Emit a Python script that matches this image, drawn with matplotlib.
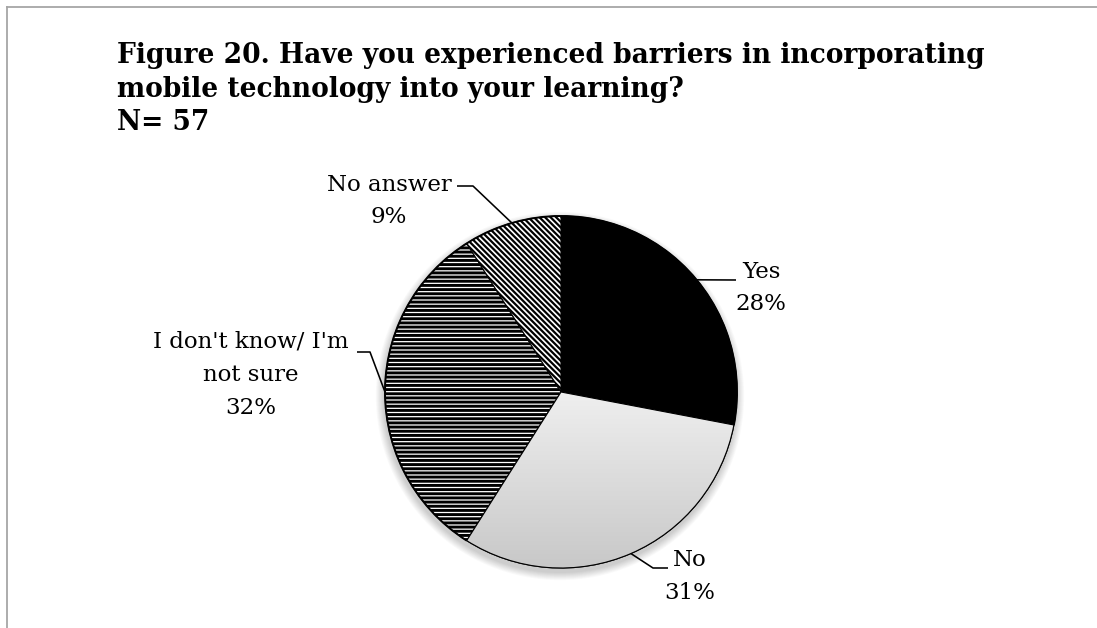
import numpy as np
import matplotlib
matplotlib.use("Agg")
import matplotlib.pyplot as plt
from matplotlib.lines import Line2D
from matplotlib.patches import Circle, Wedge, Arc
from matplotlib.colors import LinearSegmentedColormap

W, H = 1097, 628

title_lines = ["Figure 20. Have you experienced barriers in incorporating",
               "mobile technology into your learning?",
               "N= 57"]
categories = ["Yes", "No", "I don't know/ I'm\nnot sure", "No answer"]
percent = [28, 31, 32, 9]

plt.rcParams["hatch.linewidth"] = 2.0
serif = ["DejaVu Serif"]

fig = plt.figure(figsize=(W / 100, H / 100), dpi=100)
ax = fig.add_axes([0, 0, 1, 1])


def Y(y):
    # convert a top-down pixel row into axes units
    return H - y


cx, cy, r = 561, Y(392), 176

# soft drop shadow under the pie
for i in range(10):
    ax.add_patch(Circle((cx - 1, cy - 4), r + 1 + i * 0.8, facecolor="black",
                        edgecolor="none", alpha=0.018, zorder=1))

wedges, _ = ax.pie(percent, startangle=90, counterclock=False, center=(cx, cy),
                   radius=r, frame=True,
                   wedgeprops=dict(edgecolor="black", linewidth=0.8))
ax.set_xlim(0, W)
ax.set_ylim(0, H)
ax.set_aspect("equal")
ax.axis("off")

styles = [
    dict(facecolor="black", hatch=None),
    dict(facecolor="#e0e0e0", hatch=None),
    dict(facecolor="white", hatch="----"),
    dict(facecolor="white", hatch="\\\\\\\\\\\\"),
]
for w, st in zip(wedges, styles):
    w.set_facecolor(st["facecolor"])
    w.set_zorder(2)
    if st["hatch"]:
        w.set_hatch(st["hatch"])
        try:
            w.set_hatch_linewidth(2.1 if st["hatch"] == "----" else 1.6)
        except AttributeError:
            pass

# gradient fill for the "No" slice
wno = wedges[1]
grad = np.linspace(0, 1, 256).reshape(-1, 1)
ax.imshow(grad, cmap=LinearSegmentedColormap.from_list("g", ["#c8c8c8", "#efefef"]),
          origin="lower", aspect="auto",
          extent=[cx - r, cx + r, cy - r, cy], zorder=2.5, clip_path=wno)
ax.add_patch(Wedge((cx, cy), r, wno.theta1, wno.theta2, facecolor="none",
                   edgecolor="black", linewidth=0.8, zorder=3))
# heavier rim along the bottom of the pie
ax.add_patch(Arc((cx, cy), 2 * r, 2 * r, theta1=wno.theta2, theta2=wno.theta1,
                 color="black", linewidth=1.4, zorder=3))
ax.set_xlim(0, W)
ax.set_ylim(0, H)

# title
fs_title = 19.1
for txt, base in zip(title_lines, [63, 97, 130]):
    ax.text(117, Y(base), txt, fontsize=fs_title, fontweight="bold",
            family=serif, ha="left", va="baseline", color="black")

# data labels with leader lines (elbow + label anchor per slice)
label_pos = [(761, [278, 310]), (690, [566, 599]),
             (251, [348, 381, 414]), (389, [191, 223])]
elbows = [[(736, 280)],
          [(668, 568), (653, 568)],
          [(357, 352), (370, 352)],
          [(457, 186), (473, 186)]]
fs_lab = 16.5
for w, cat, p, (lx, bases), elb in zip(wedges, categories, percent,
                                       label_pos, elbows):
    lines = cat.split("\n") + [f"{p}%"]
    for t, b in zip(lines, bases):
        ax.text(lx, Y(b), t, fontsize=fs_lab, family=serif, ha="center",
                va="baseline", color="black")
    mid = np.deg2rad((w.theta1 + w.theta2) / 2)
    ex, ey = cx + r * np.cos(mid), cy + r * np.sin(mid)
    xs = [e[0] for e in elb] + [ex]
    ys = [Y(e[1]) for e in elb] + [ey]
    ax.plot(xs, ys, color="black", linewidth=1.15, zorder=4,
            solid_capstyle="butt")

# frame lines along the top and left of the chart area
fig.add_artist(Line2D([7 / W, 1], [1 - 7 / H, 1 - 7 / H], color="#a6a6a6",
                      linewidth=1.3, transform=fig.transFigure))
fig.add_artist(Line2D([7 / W, 7 / W], [0, 1 - 7 / H], color="#a6a6a6",
                      linewidth=1.3, transform=fig.transFigure))

fig.savefig("out.png", dpi=100)
